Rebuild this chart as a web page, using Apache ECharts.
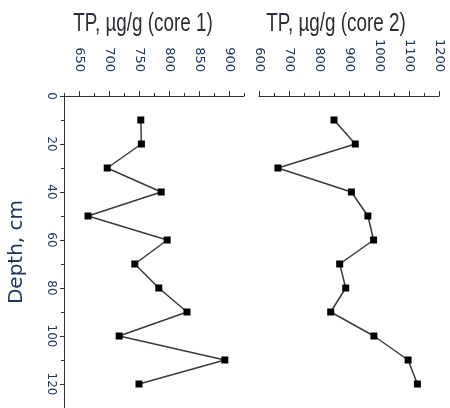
<!DOCTYPE html>
<html>
<head>
<meta charset="utf-8">
<script src="https://cdn.jsdelivr.net/npm/echarts@6/dist/echarts.min.js"></script>
<style>
  html, body { margin: 0; padding: 0; background: #fff; }
  #chart { width: 450px; height: 408px; }
</style>
</head>
<body>
<div id="chart"></div>
<script>
// Sampling depths (cm) shared by both cores
const depth = [10, 20, 30, 40, 50, 60, 70, 80, 90, 100, 110, 120];
// Total phosphorus, µg/g
const core1 = [753, 754, 697, 787, 665, 797, 743, 783, 830, 717, 893, 750];
const core2 = [850, 921, 663, 908, 963, 982, 869, 889, 839, 983, 1097, 1128];
// Tick values for the core 1 axis (labelled majors and unlabelled minors)
const core1Major = [650, 700, 750, 800, 850, 900];
const core1Minor = [625, 675, 725, 775, 825, 875, 925];
// Panel titles
const titles = ['TP, µg/g (core 1)', 'TP, µg/g (core 2)'];

const ink = '#333';
const labelColor = '#1f3660';
const tickFont = { fontFamily: 'DejaVu Sans', fontSize: 13, color: labelColor };
const plain = v => String(v);

const chart = echarts.init(document.getElementById('chart'), null, { renderer: 'canvas' });

const plotTop = 96;
const plotHeight = 313.6;

// Condensed panel headings: regular sans, squeezed horizontally
const heading = (text, x) => ({
  type: 'text', x: x, y: 11, scaleX: 0.82, scaleY: 1.12, silent: true,
  style: {
    text: text, align: 'center', verticalAlign: 'top',
    font: '23px "Liberation Sans", Arial, sans-serif', fill: '#2a2d38'
  }
});

chart.setOption({
  backgroundColor: '#fff',
  animation: false,
  graphic: [heading(titles[0], 143), heading(titles[1], 336)],
  grid: [
    { left: 64, top: plotTop, width: 180, height: plotHeight },
    { left: 259, top: plotTop, width: 180, height: plotHeight }
  ],
  xAxis: [
    {
      gridIndex: 0, type: 'value', position: 'top', min: 625, max: 925,
      axisLine: { show: true, lineStyle: { color: ink, width: 1 } },
      axisTick: { show: true, inside: false, length: 5, customValues: core1Major, lineStyle: { color: ink } },
      axisLabel: { show: true, rotate: -90, margin: 24, customValues: core1Major, formatter: plain, ...tickFont },
      splitLine: { show: false }
    },
    {
      gridIndex: 0, type: 'value', position: 'top', min: 625, max: 925,
      axisLine: { show: false },
      axisTick: { show: true, inside: false, length: 3, customValues: core1Minor, lineStyle: { color: ink } },
      axisLabel: { show: false },
      splitLine: { show: false }
    },
    {
      gridIndex: 1, type: 'value', position: 'top', min: 600, max: 1200, interval: 100,
      axisLine: { show: true, lineStyle: { color: ink, width: 1 } },
      axisTick: { show: true, inside: false, length: 5, lineStyle: { color: ink } },
      minorTick: { show: true, splitNumber: 2, length: 3, lineStyle: { color: ink } },
      axisLabel: { show: true, rotate: -90, margin: 24, formatter: plain, ...tickFont },
      splitLine: { show: false }
    }
  ],
  yAxis: [
    {
      gridIndex: 0, type: 'value', inverse: true, min: 0, max: 130, interval: 20,
      name: 'Depth, cm', nameLocation: 'middle', nameRotate: 90, nameGap: 37,
      nameTextStyle: { fontFamily: 'DejaVu Sans', fontSize: 20, color: labelColor },
      axisLine: { show: true, lineStyle: { color: ink, width: 1 } },
      axisTick: { show: true, inside: false, length: 4, lineStyle: { color: ink } },
      minorTick: { show: true, splitNumber: 2, length: 3, lineStyle: { color: ink } },
      axisLabel: { show: true, rotate: -90, margin: 7, showMaxLabel: false, formatter: plain,
        fontFamily: 'DejaVu Sans', fontSize: 12, color: labelColor },
      splitLine: { show: false }
    },
    {
      gridIndex: 1, type: 'value', inverse: true, min: 0, max: 130, show: false
    }
  ],
  series: [
    {
      type: 'line', xAxisIndex: 0, yAxisIndex: 0,
      data: depth.map((d, i) => [core1[i], d]),
      symbol: 'rect', symbolSize: 7,
      itemStyle: { color: '#000' },
      lineStyle: { color: '#3a3a3a', width: 1.5 }
    },
    {
      type: 'line', xAxisIndex: 2, yAxisIndex: 1,
      data: depth.map((d, i) => [core2[i], d]),
      symbol: 'rect', symbolSize: 7,
      itemStyle: { color: '#000' },
      lineStyle: { color: '#3a3a3a', width: 1.5 }
    }
  ]
});
</script>
</body>
</html>
